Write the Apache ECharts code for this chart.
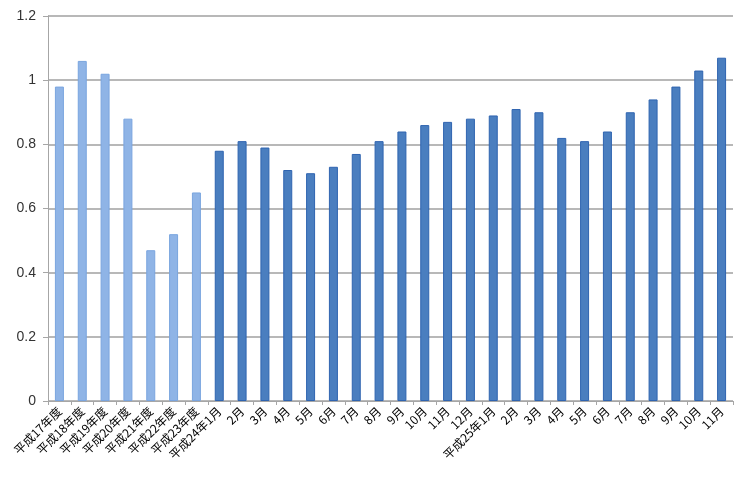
<!DOCTYPE html>
<html>
<head>
<meta charset="utf-8">
<script src="https://cdn.jsdelivr.net/npm/echarts@6/dist/echarts.min.js"></script>
<style>
  html, body { margin: 0; padding: 0; background: #fff; }
  #main { width: 750px; height: 478px; }
</style>
</head>
<body>
<div id="main"></div>
<script>
const categories = [
  '平成17年度', '平成18年度', '平成19年度', '平成20年度', '平成21年度', '平成22年度', '平成23年度',
  '平成24年1月', '2月', '3月', '4月', '5月', '6月', '7月', '8月', '9月', '10月', '11月', '12月',
  '平成25年1月', '2月', '3月', '4月', '5月', '6月', '7月', '8月', '9月', '10月', '11月'
]
const values = [
  0.98, 1.06, 1.02, 0.88, 0.47, 0.52, 0.65,
  0.78, 0.81, 0.79, 0.72, 0.71, 0.73, 0.77, 0.81, 0.84, 0.86, 0.87, 0.88,
  0.89, 0.91, 0.90, 0.82, 0.81, 0.84, 0.90, 0.94, 0.98, 1.03, 1.07
]
const yearlyCount = 7 // 年度 bars are drawn lighter

const chart = echarts.init(document.getElementById('main'))

const option = {
  animation: false,
  grid: {
    left: 48,
    right: 17,
    top: 16,
    bottom: 77,
  },
  xAxis: {
    type: 'category',
    data: categories,
    axisLine: { lineStyle: { color: '#a6a6a6', width: 1 } },
    axisTick: { show: true, length: 4, lineStyle: { color: '#a6a6a6' } },
    axisLabel: {
      interval: 0,
      rotate: 45,
      fontSize: 12,
      color: '#000',
      margin: 8,
      fontFamily: 'Noto Sans CJK JP',
    },
  },
  yAxis: {
    type: 'value',
    min: 0,
    max: 1.2,
    interval: 0.2,
    axisLine: { show: true, lineStyle: { color: '#a6a6a6' } },
    axisTick: { show: true, length: 5, lineStyle: { color: '#a6a6a6' } },
    splitLine: { lineStyle: { color: '#b8b8b8', width: 2 } },
    axisLabel: {
      fontSize: 14,
      color: '#333',
      margin: 12,
      fontFamily: 'Liberation Sans',
      formatter: v => String(Math.round(v * 10) / 10),
    },
  },
  series: [
    {
      type: 'bar',
      barWidth: 9,
      data: values.map((v, i) => ({
        value: v,
        itemStyle: i < yearlyCount
          ? { color: '#8fb4e6', borderColor: '#7aa5df', borderWidth: 1 }
          : { color: '#4a7ebf', borderColor: '#2f64b0', borderWidth: 1 },
      })),
    },
  ],
}

chart.setOption(option)
</script>
</body>
</html>
